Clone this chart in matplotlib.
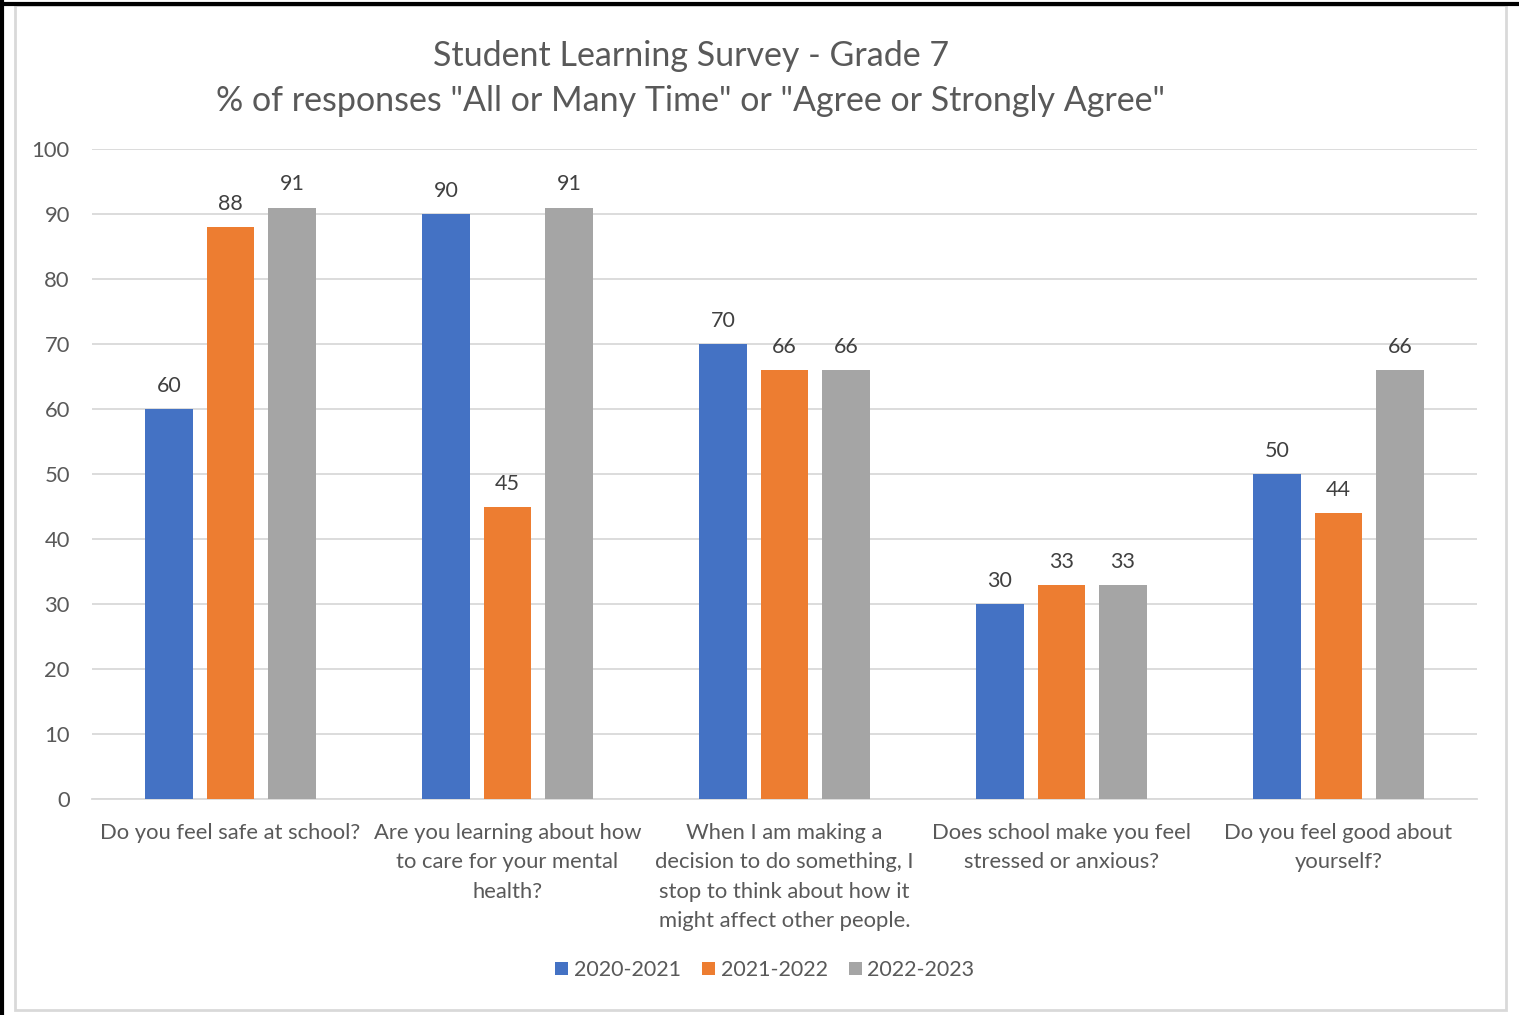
import numpy as np
import matplotlib.pyplot as plt
from matplotlib.patches import Rectangle
from matplotlib.lines import Line2D

plt.rcParams['font.family'] = ['Lato', 'DejaVu Sans']

# data
questions = [
    "Do you feel safe at school?",
    "Are you learning about how\nto care for your mental\nhealth?",
    "When I am making a\ndecision to do something, I\nstop to think about how it\nmight affect other people.",
    "Does school make you feel\nstressed or anxious?",
    "Do you feel good about\nyourself?",
]
years = ["2020-2021", "2021-2022", "2022-2023"]
y2020 = [60, 90, 70, 30, 50]
y2021 = [88, 45, 66, 33, 44]
y2022 = [91, 91, 66, 33, 66]
colors = ["#4472C4", "#ED7D31", "#A5A5A5"]
text_col = "#595959"

fig = plt.figure(figsize=(15.19, 10.15), dpi=100)

# borders like the original screenshot
fig.add_artist(Rectangle((15 / 1519, 1 - 1010 / 1015), (1506 - 15) / 1519, (1010 - 5) / 1015,
                         transform=fig.transFigure, fill=False, edgecolor="#D9D9D9", lw=2))
fig.add_artist(Line2D([0, 1], [1 - 4 / 1015, 1 - 4 / 1015], transform=fig.transFigure, color="black", lw=3))
fig.add_artist(Line2D([2 / 1519, 2 / 1519], [0, 1], transform=fig.transFigure, color="black", lw=3))

ax = fig.add_axes([92 / 1519, 1 - 799 / 1015, (1477 - 92) / 1519, (799 - 149) / 1015])

x = np.arange(len(questions))
w = 0.173
off = 0.222
for i, vals in enumerate([y2020, y2021, y2022]):
    bars = ax.bar(x + (i - 1) * off, vals, w, color=colors[i], label=years[i], zorder=3)
    for b, v in zip(bars, vals):
        ax.text(b.get_x() + b.get_width() / 2, v + 2.0, str(v), ha="center", va="bottom",
                fontsize=15.5, color="#404040")

ax.set_xlim(-0.5, len(questions) - 0.5)
ax.set_ylim(0, 100)
ax.set_yticks(range(0, 101, 10))
ax.yaxis.grid(True, color="#D9D9D9", lw=1.3, zorder=0)
ax.set_xticks(x)
ax.set_xticklabels(questions, fontsize=15.8, color=text_col, linespacing=1.6, va="top")
ax.tick_params(axis="both", length=0, labelsize=15.8, colors=text_col)
ax.tick_params(axis="x", pad=17)
ax.tick_params(axis="y", pad=16)
for s in ["top", "right", "left"]:
    ax.spines[s].set_visible(False)
ax.spines["bottom"].set_color("#D9D9D9")
ax.spines["bottom"].set_linewidth(1.3)

fig.text(691 / 1519, 1 - 56 / 1015, "Student Learning Survey - Grade 7", ha="center", va="center",
         fontsize=24.5, color=text_col)
fig.text(691 / 1519, 1 - 101 / 1015, "% of responses \"All or Many Time\" or \"Agree or Strongly Agree\"",
         ha="center", va="center", fontsize=24.5, color=text_col)

leg = fig.legend(loc="center", bbox_to_anchor=(765 / 1519, 1 - 970 / 1015), ncol=3, frameon=False,
                 fontsize=15.5, handlelength=0.6, handleheight=0.6, handletextpad=0.25, columnspacing=1.0)
for t in leg.get_texts():
    t.set_color(text_col)

fig.savefig("out.png", dpi=100)
